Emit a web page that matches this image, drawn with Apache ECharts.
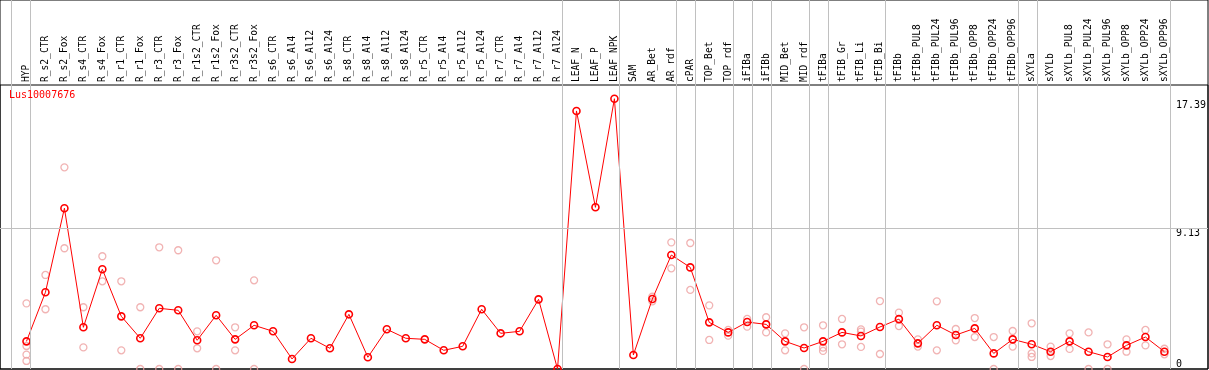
<!DOCTYPE html>
<html><head><meta charset="utf-8">
<script src="https://cdn.jsdelivr.net/npm/echarts@6/dist/echarts.min.js"></script>
<style>html,body{margin:0;padding:0;background:#fff}#c{width:1209px;height:370px}</style>
</head><body><div id="c"></div>
<script>
const geneName = 'Lus10007676';
const categories = ['HYP','R_s2_CTR','R_s2_Fox','R_s4_CTR','R_s4_Fox','R_r1_CTR','R_r1_Fox','R_r3_CTR','R_r3_Fox','R_r1s2_CTR','R_r1s2_Fox','R_r3s2_CTR','R_r3s2_Fox','R_s6_CTR','R_s6_Al4','R_s6_Al12','R_s6_Al24','R_s8_CTR','R_s8_Al4','R_s8_Al12','R_s8_Al24','R_r5_CTR','R_r5_Al4','R_r5_Al12','R_r5_Al24','R_r7_CTR','R_r7_Al4','R_r7_Al12','R_r7_Al24','LEAF_N','LEAF_P','LEAF_NPK','SAM','AR_Bet','AR_rdf','cPAR','TOP_Bet','TOP_rdf','iFIBa','iFIBb','MID_Bet','MID_rdf','tFIBa','tFIB_Gr','tFIB_Li','tFIB_Bi','tFIBb','tFIBb_PUL8','tFIBb_PUL24','tFIBb_PUL96','tFIBb_OPP8','tFIBb_OPP24','tFIBb_OPP96','sXYLa','sXYLb','sXYLb_PUL8','sXYLb_PUL24','sXYLb_PUL96','sXYLb_OPP8','sXYLb_OPP24','sXYLb_OPP96'];
const meanValues = [1.79,4.97,10.41,2.70,6.46,3.41,1.99,3.93,3.80,1.86,3.48,1.92,2.83,2.44,0.65,1.99,1.34,3.54,0.76,2.57,1.99,1.92,1.21,1.47,3.87,2.31,2.44,4.51,0,16.71,10.47,17.5,0.91,4.53,7.38,6.58,3.02,2.37,3.04,2.89,1.79,1.36,1.79,2.37,2.14,2.72,3.23,1.66,2.83,2.20,2.63,1.01,1.92,1.60,1.12,1.79,1.12,0.78,1.53,2.07,1.12];
const replicateValues = [[4.25,1.49,0.93,0.52],[6.09,3.87],[13.06,7.82],[4.0,1.40],[7.30,5.68],[5.68,1.21],[4.0,0],[7.88,0],[7.69,0],[2.44,1.34],[7.04,0],[2.70,1.21],[5.74,0],[],[],[],[],[],[],[],[],[],[],[],[],[],[],[],[],[],[],[],[],[4.68,4.38],[8.2,6.52],[8.16,5.12],[4.12,1.88],[2.53,2.16],[3.24,2.74],[3.35,2.37],[2.31,1.21],[2.70,0],[2.83,1.38,1.17],[3.24,1.60],[2.57,2.42,1.43],[4.40,0.97],[3.65,2.78],[1.92,1.45],[4.38,1.21],[2.59,1.86],[3.30,2.07],[2.07,0],[2.46,1.45],[2.96,1.01,0.78],[1.45,0.84],[2.31,1.30],[2.37,0],[1.60,0],[1.92,1.12],[2.53,1.53],[1.31,0.95]];
const groupEnds = ['HYP','R_r7_Al24','LEAF_NPK','AR_rdf','cPAR','TOP_rdf','iFIBa','iFIBb','MID_rdf','tFIBa','tFIB_Bi','tFIBb_OPP96','sXYLa','sXYLb_OPP96'];
const yTopLabels = [9.13, 17.39];
const yBottomLabels = [0];
const gridLineValues = [9.13];
const yMax = 18.39;

const FONT = 'DejaVu Sans Mono';
// band width 19px, first centre at x=26.5 within full frame 0..1208
const fullMin = -26.5 / 19, fullMax = (1208 - 26.5) / 19;
const sepOffset = 4 / 19;
const separators = [-1].concat(groupEnds.map(n => categories.indexOf(n))).map(i => i + sepOffset);
const repData = [];
replicateValues.forEach((arr, i) => arr.forEach(v => repData.push([categories[i], v])));

const chart = echarts.init(document.getElementById('c'), null, {renderer: 'canvas'});
chart.setOption({
  animation: false,
  backgroundColor: '#fff',
  title: {text: geneName, left: 9, top: 90, padding: 0,
    textStyle: {color: '#ff0000', fontFamily: FONT, fontSize: 10, fontWeight: 'normal'}},
  grid: [
    {left: 17, right: 33, top: 85, bottom: 1},
    {left: 0, right: 1, top: 0, bottom: 1, show: true, borderColor: '#000', borderWidth: 1, backgroundColor: 'transparent'},
    {left: 0, right: 1, top: 85, bottom: 1, show: true, borderColor: '#000', borderWidth: 1, backgroundColor: 'transparent'}
  ],
  xAxis: [
    {type: 'category', gridIndex: 0, data: categories, position: 'top', boundaryGap: true,
      axisLine: {show: false}, axisTick: {show: false}, splitLine: {show: false},
      axisLabel: {interval: 0, rotate: 90, margin: 3, color: '#000', fontFamily: FONT, fontSize: 9.6}},
    {type: 'value', gridIndex: 1, min: fullMin, max: fullMax, show: false},
    {type: 'value', gridIndex: 2, min: fullMin, max: fullMax, show: false}
  ],
  yAxis: [
    {type: 'value', gridIndex: 0, min: 0, max: yMax, position: 'right',
      axisLine: {show: false}, axisTick: {show: false}, splitLine: {show: false},
      axisLabel: {customValues: yTopLabels, margin: 2, align: 'left', verticalAlign: 'top',
        color: '#000', fontFamily: FONT, fontSize: 10, formatter: v => String(v)}},
    {type: 'value', gridIndex: 1, min: 0, max: 1, show: false},
    {type: 'value', gridIndex: 2, min: 0, max: yMax, show: false},
    {type: 'value', gridIndex: 0, min: 0, max: yMax, position: 'right',
      axisLine: {show: false}, axisTick: {show: false}, splitLine: {show: false},
      axisLabel: {customValues: yBottomLabels, margin: 2, align: 'left', verticalAlign: 'bottom',
        color: '#000', fontFamily: FONT, fontSize: 10, formatter: v => String(v)}}
  ],
  series: [
    {type: 'line', xAxisIndex: 1, yAxisIndex: 1, data: [], z: 1,
      markLine: {silent: true, symbol: 'none', label: {show: false}, animation: false,
        lineStyle: {color: '#c0c0c0', width: 1, type: 'solid'},
        data: separators.map(v => ({xAxis: v}))}},
    {type: 'line', xAxisIndex: 2, yAxisIndex: 2, data: [], z: 1,
      markLine: {silent: true, symbol: 'none', label: {show: false}, animation: false,
        lineStyle: {color: '#c0c0c0', width: 1, type: 'solid'},
        data: gridLineValues.map(v => ({yAxis: v}))}},
    {type: 'scatter', xAxisIndex: 0, yAxisIndex: 0, data: repData, symbol: 'circle', symbolSize: 7, z: 3,
      itemStyle: {color: 'rgba(255,255,255,0)', borderColor: '#eea0a0', borderWidth: 1.3}},
    {type: 'line', xAxisIndex: 0, yAxisIndex: 0, data: meanValues, symbol: 'circle', symbolSize: 7, z: 4,
      itemStyle: {color: 'rgba(255,255,255,0)', borderColor: '#ff0000', borderWidth: 1.6},
      lineStyle: {color: '#ff0000', width: 1}}
  ]
});
</script></body></html>
